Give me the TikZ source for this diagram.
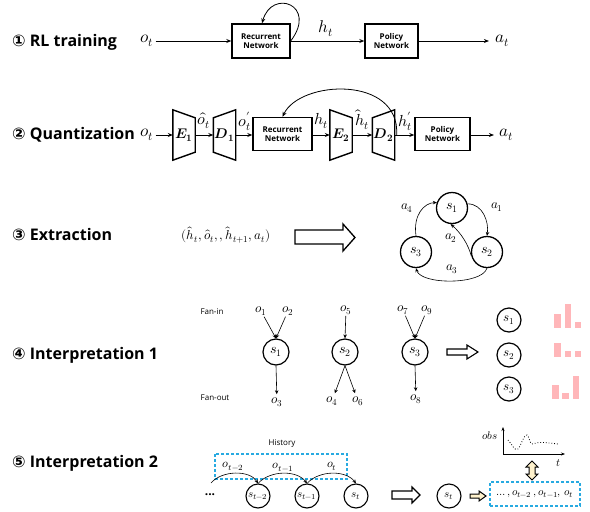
\documentclass[tikz,border=0pt]{standalone}
\usepackage{amsmath}
\usepackage{fontspec}
\usepackage{unicode-math}
\setmainfont{Open Sans}
\setmathfont{Latin Modern Math}
\newfontfamily\circfont{DejaVu Sans}
\usetikzlibrary{arrows.meta}
\definecolor{hblue}{RGB}{40,170,225}
\definecolor{barpink}{RGB}{255,182,185}
\definecolor{ayellow}{RGB}{255,242,204}
\begin{document}
\begin{tikzpicture}[x=1pt,y=-1pt,
  title/.style={anchor=west,font=\fontsize{16}{18}\selectfont\bfseries,inner sep=0},
  netbox/.style={draw,line width=1.4pt,minimum width=58,minimum height=34,align=center,font=\fontsize{8}{9}\selectfont\bfseries,inner sep=1},
  arr/.style={-{Stealth[length=5pt,width=4pt]},line width=0.8pt},
  sarr/.style={-{Stealth[length=4pt,width=3.5pt]},line width=0.6pt},
  lab/.style={inner sep=2,font=\fontsize{17}{19}\selectfont},
  qlab/.style={inner sep=0,font=\fontsize{16}{18}\selectfont},
  mlab/.style={inner sep=1,font=\fontsize{13}{15}\selectfont},
  slab/.style={inner sep=1,font=\fontsize{11}{13}\selectfont},
  trap/.style={inner sep=0,minimum width=22,minimum height=50,font=\fontsize{14}{16}\selectfont},
  st/.style={draw,circle,line width=1.3pt,minimum size=31,inner sep=0,font=\fontsize{14}{16}\selectfont},
  sc/.style={draw,circle,line width=1.2pt,minimum size=26,inner sep=0,font=\fontsize{14}{16}\selectfont},
  hc/.style={draw,circle,line width=1.1pt,minimum size=24,inner sep=0,font=\fontsize{11}{13}\selectfont},
  hollow/.style={draw,line width=1.3pt,fill=white},
  hbox/.style={draw=hblue,line width=1.3pt,dash pattern=on 3pt off 2pt},
  small/.style={inner sep=0,font=\fontsize{8}{10}\selectfont},
  bar/.style={fill=barpink,draw=none}]
\useasboundingbox (0,0) rectangle (590,512);

% ---------- Row 1 ----------
\node[title] (t1) at (12,42) {{\circfont ①} RL training};
\node[lab] (ot1) at (147,41) {$o_t$};
\node[netbox] (rn1) at (261,41) {Recurrent\\Network};
\node[netbox,minimum width=53] (pn1) at (391.5,41) {Policy\\Network};
\node[lab,inner sep=6] (at1) at (502,41) {$a_t$};
\node[lab] (ht1) at (326,29) {$h_t$};
\draw[arr] (ot1) -- (rn1);
\draw[arr] (rn1) -- (pn1);
\draw[arr] (pn1) -- (at1);
\draw[arr] (rn1.east) .. controls (318,5) and (272,-12) .. ([xshift=1]rn1.north);

% ---------- Row 2 ----------
\node[title] (t2) at (12,135) {{\circfont ②} Quantization};
\node[lab] (ot2) at (147,135) {$o_t$};
\node[trap] (E1) at (184,135) {$\symbfit{E}_{\symbf{1}}$};
\node[trap] (D1) at (224.5,135) {$\symbfit{D}_{\symbf{1}}$};
\node[netbox,minimum width=59,minimum height=33] (rn2) at (282.5,134) {Recurrent\\Network};
\node[trap] (E2) at (341,135) {$\symbfit{E}_{\symbf{2}}$};
\node[trap] (D2) at (383.5,135) {$\symbfit{D}_{\symbf{2}}$};
\node[netbox,minimum width=55,minimum height=33] (pn2) at (442.5,134) {Policy\\Network};
\node[lab,inner sep=5] (at2) at (506,135) {$a_t$};
\foreach \n in {E1,E2}{
  \draw[line width=1.4pt] (\n.north west) -- (\n.south west) -- ([yshift=8]\n.south east) -- ([yshift=-8]\n.north east) -- cycle;}
\foreach \n in {D1,D2}{
  \draw[line width=1.4pt] (\n.north east) -- (\n.south east) -- ([yshift=8]\n.south west) -- ([yshift=-8]\n.north west) -- cycle;}
\node[qlab] (l1) at (204,121) {$\hat{o}_t$};
\node[qlab] (l2) at (244.5,121) {$o'_t$};
\node[qlab] (l3) at (321,121) {$h_t$};
\node[qlab] (l4) at (362,120) {$\hat{h}_t$};
\node[qlab] (l5) at (405,121) {$h'_t$};
\draw[arr] (ot2) -- (E1);
\draw[arr] (E1) -- (D1);
\draw[arr] (D1) -- (rn2.west |- D1);
\draw[arr] (rn2.east |- E2) -- (E2);
\draw[arr] (E2) -- (D2);
\draw[arr] (D2) -- (pn2.west |- D2);
\draw[arr] (pn2.east |- at2) -- (at2);
\draw[arr] ([xshift=2]D2.east) .. controls (400,75) and (300,80) .. (rn2.north);

% ---------- Row 3 ----------
\node[title] (t3) at (12,235) {{\circfont ③} Extraction};
\node[inner sep=0,font=\fontsize{13}{15}\selectfont] (tup) at (226,235) {$(\hat{h}_t,\hat{o}_t,,\hat{h}_{t+1},a_t)$};
\draw[hollow] (295,230) -- (343,230) -- (343,224) -- (355,237.5) -- (343,251) -- (343,244) -- (295,244) -- cycle;
\node[st] (s1) at (452,208) {$s_1$};
\node[st] (s2) at (487,252) {$s_2$};
\node[st] (s3) at (416,252) {$s_3$};
\draw[sarr] (s1.15) .. controls (483,204) and (489,222) .. (s2.north);
\draw[sarr] (s2.195) .. controls (468,244) and (461,233) .. (s1.265);
\draw[sarr] (s2.south) .. controls (482,285) and (421,285) .. (s3.south);
\draw[sarr] (s3.north) .. controls (413,215) and (424,203) .. (s1.160);
\node[mlab] (a1) at (497,207) {$a_1$};
\node[mlab] (a2) at (451,238) {$a_2$};
\node[mlab] (a3) at (452,269) {$a_3$};
\node[mlab] (a4) at (407,208) {$a_4$};

% ---------- Row 4 ----------
\node[title] (t4) at (12,355) {{\circfont ④} Interpretation 1};
\node[small] (fi) at (212,312) {Fan-in};
\node[small] (fo) at (215,398) {Fan-out};
\node[sc] (c1) at (276,352) {$s_1$};
\node[sc] (c2) at (345,352) {$s_2$};
\node[sc] (c3) at (415,352) {$s_3$};
\node[mlab] (o1) at (261,311) {$o_1$};
\node[mlab] (o2) at (288,311) {$o_2$};
\node[mlab] (o5) at (346,310) {$o_5$};
\node[mlab] (o7) at (403,310) {$o_7$};
\node[mlab] (o9) at (427,310) {$o_9$};
\node[mlab,inner sep=3] (o3) at (277,402) {$o_3$};
\node[mlab,inner sep=3] (o4) at (332,401) {$o_4$};
\node[mlab,inner sep=3] (o6) at (358,401) {$o_6$};
\node[mlab,inner sep=3] (o8) at (416,399) {$o_8$};
\draw[sarr] (o1) -- (c1.north);
\draw[sarr] (o2) -- (c1.north);
\draw[sarr] (o5) -- (c2.north);
\draw[sarr] (o7) -- (c3.north);
\draw[sarr] (o9) -- (c3.north);
\draw[sarr] (c1.south) -- (o3);
\draw[sarr] (c2.south) -- (o4);
\draw[sarr] (c2.south) -- (o6);
\draw[sarr] (c3.south) -- (o8);
\draw[hollow,line width=1.1pt] (447,349) -- (467,349) -- (467,345) -- (478,352) -- (467,359) -- (467,355) -- (447,355) -- cycle;
\node[hc,line width=1.2pt,font=\fontsize{13}{15}\selectfont] (r1) at (509,320) {$s_1$};
\node[hc,line width=1.2pt,font=\fontsize{13}{15}\selectfont] (r2) at (509,355) {$s_2$};
\node[hc,line width=1.2pt,font=\fontsize{13}{15}\selectfont] (r3) at (509,389) {$s_3$};
\fill[bar] (554,314) rectangle (561,328);
\fill[bar] (565,304) rectangle (571,328);
\fill[bar] (575,322) rectangle (581,328);
\fill[bar] (554,343) rectangle (561,357);
\fill[bar] (565,351) rectangle (571,357);
\fill[bar] (575,351) rectangle (581,357);
\fill[bar] (552,385) rectangle (559,399);
\fill[bar] (562,393) rectangle (569,399);
\fill[bar] (573,376) rectangle (579,399);

% ---------- Row 5 ----------
\node[title] (t5) at (12,463) {{\circfont ⑤} Interpretation 2};
\node[small] (hist) at (282,444) {History};
\draw[hbox] (215,454) rectangle (347,479);
\node[inner sep=0,font=\fontsize{12}{12}\selectfont\bfseries] (dots) at (210,495) {...};
\coordinate (hs) at (211,483);
\node[hc] (h1) at (258,496) {$s_{t-2}$};
\node[hc] (h2) at (307,496) {$s_{t-1}$};
\node[hc] (h3) at (356,496) {$s_t$};
\draw[sarr] (hs) .. controls (222,470) and (250,470) .. (h1.north);
\draw[sarr] (h1.north) .. controls (270,470) and (297,470) .. (h2.north);
\draw[sarr] (h2.north) .. controls (319,470) and (346,470) .. (h3.north);
\node[slab,font=\fontsize{12}{14}\selectfont] (q1) at (233,466) {$o_{t-2}$};
\node[slab,font=\fontsize{12}{14}\selectfont] (q2) at (283,467) {$o_{t-1}$};
\node[slab,font=\fontsize{12}{14}\selectfont] (q3) at (332,466) {$o_t$};
\draw[hollow,line width=1.1pt] (392,491) -- (412,491) -- (412,487) -- (420,495) -- (412,503) -- (412,499) -- (392,499) -- cycle;
\node[hc] (hst) at (449,496) {$s_t$};
\draw[line width=1pt,fill=ayellow] (470,494) -- (479,494) -- (479,491) -- (486,496) -- (479,501) -- (479,498) -- (470,498) -- cycle;
\node[hbox,minimum width=90,minimum height=24,inner sep=0,font=\fontsize{11}{13}\selectfont] (hb) at (535,494) {$\dots,o_{t-2}\,,o_{t-1},\,o_t$};
\draw[line width=1pt,fill=ayellow] (532,461) -- (538,467) -- (535,467) -- (535,474) -- (538,474) -- (532,480) -- (526,474) -- (529,474) -- (529,467) -- (526,467) -- cycle;
\coordinate (org) at (503,454);
\draw[-{Stealth[length=4pt,width=3pt]},line width=0.6pt] (org) -- (503,427);
\draw[-{Stealth[length=4pt,width=3pt]},line width=0.6pt] (org) -- (565,454);
\node[slab] (obs) at (490,436) {$obs$};
\node[slab] (tt) at (558,463) {$t$};
\draw[dotted,line width=0.8pt] (508,440) .. controls (512,444) and (515,452) .. (518,449) .. controls (521,446) and (524,434) .. (527,435) .. controls (529,436) and (530,444) .. (532,444) .. controls (536,443) and (540,442) .. (545,442.5) -- (558,444);
\end{tikzpicture}
\end{document}
